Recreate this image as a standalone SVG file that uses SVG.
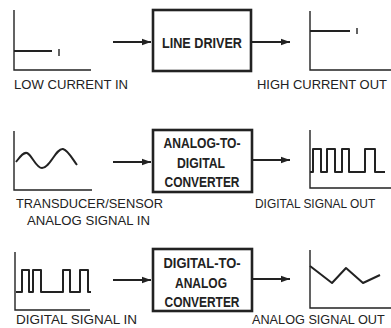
<svg xmlns="http://www.w3.org/2000/svg" width="391" height="328" viewBox="0 0 391 328">
<style>
.ax{fill:none;stroke:#222;stroke-width:1.4}
.sig{fill:none;stroke:#222;stroke-width:2;stroke-linejoin:round}
.box{fill:#fff;stroke:#222;stroke-width:2.6}
.bt{font-family:"Liberation Sans",Arial,sans-serif;font-weight:bold;font-size:14px;fill:#222;text-anchor:middle}
.lb{font-family:"Liberation Sans",Arial,sans-serif;font-size:13.5px;fill:#222}
.con{fill:none;stroke:#222;stroke-width:2}
</style>
<defs>
<marker id="ah" viewBox="0 0 10 10" refX="10" refY="5" markerWidth="5" markerHeight="4.5" orient="auto" markerUnits="strokeWidth">
<path d="M0,1.5 L10,5 L0,8.5 Z" fill="#222"/>
</marker>
</defs>
<rect width="391" height="328" fill="#fff"/>

<g id="low-current-in">
<path class="ax" d="M14,10 V70 H91"/>
<path class="sig" d="M14,51 H52"/>
<path class="ax" d="M59,49 V56"/>
<text class="lb" x="14" y="89" textLength="114" lengthAdjust="spacingAndGlyphs">LOW CURRENT IN</text>
</g>

<g id="line-driver">
<rect class="box" x="153" y="10" width="98" height="61"/>
<text class="bt" x="202" y="48" textLength="80" lengthAdjust="spacingAndGlyphs">LINE DRIVER</text>
</g>

<g id="high-current-out">
<path class="ax" d="M310,11 V70 H391"/>
<path class="sig" d="M310,31 H350"/>
<path class="ax" d="M357,28 V34"/>
<text class="lb" transform="translate(257,89) scale(0.96,1)" x="0" y="0">HIGH CURRENT OUT</text>
</g>

<g id="analog-in">
<path class="ax" d="M14,131 V190 H92"/>
<path class="sig" d="M16,162 C20,157 23,152 27,153 C32,155 36,168 42,168 C50,168 56,148 63,149 C68,150 73,160 77,165"/>
<text class="lb" x="16" y="208" textLength="147" lengthAdjust="spacingAndGlyphs">TRANSDUCER/SENSOR</text>
<text class="lb" x="27" y="225" textLength="123" lengthAdjust="spacingAndGlyphs">ANALOG SIGNAL IN</text>
</g>

<g id="adc">
<rect class="box" x="153" y="130" width="99" height="62"/>
<text class="bt" x="202" y="148" textLength="77" lengthAdjust="spacingAndGlyphs">ANALOG-TO-</text>
<text class="bt" x="201" y="168" textLength="48" lengthAdjust="spacingAndGlyphs">DIGITAL</text>
<text class="bt" x="202" y="187" textLength="75" lengthAdjust="spacingAndGlyphs">CONVERTER</text>
</g>

<g id="digital-out">
<path class="ax" d="M310,130 V188 H391"/>
<path class="sig" d="M310,172 H313 V149 H321 V172 H327 V149 H335 V172 H342 V149 H349 V172 H365 V149 H375 V172 H385"/>
<text class="lb" transform="translate(255,208) scale(0.885,1)" x="0" y="0">DIGITAL SIGNAL OUT</text>
</g>

<g id="digital-in">
<path class="ax" d="M15,252 V310 H90"/>
<path class="sig" d="M16,292 H22 V270 H29 V292 H33 V270 H41 V292 H63 V270 H70 V292 H80 V270 H88 V292 H91"/>
<text class="lb" x="16" y="324" textLength="121" lengthAdjust="spacingAndGlyphs">DIGITAL SIGNAL IN</text>
</g>

<g id="dac">
<rect class="box" x="153" y="249" width="99" height="62"/>
<text class="bt" x="202" y="268" textLength="77" lengthAdjust="spacingAndGlyphs">DIGITAL-TO-</text>
<text class="bt" x="201" y="288" textLength="52" lengthAdjust="spacingAndGlyphs">ANALOG</text>
<text class="bt" x="202" y="307" textLength="75" lengthAdjust="spacingAndGlyphs">CONVERTER</text>
</g>

<g id="analog-out">
<path class="ax" d="M310,250 V308 H391"/>
<path class="sig" d="M310,266 L332,283 L346,268 L363,283 L380,275"/>
<text class="lb" transform="translate(252,324) scale(0.94,1)" x="0" y="0">ANALOG SIGNAL OUT</text>
</g>

<g id="connectors">
<path class="con" d="M113,42 H151" marker-end="url(#ah)"/>
<path class="con" d="M252,42 H290" marker-end="url(#ah)"/>
<path class="con" d="M113,162 H151" marker-end="url(#ah)"/>
<path class="con" d="M253,160 H290" marker-end="url(#ah)"/>
<path class="con" d="M113,280 H151" marker-end="url(#ah)"/>
<path class="con" d="M253,279 H290" marker-end="url(#ah)"/>
</g>
</svg>
